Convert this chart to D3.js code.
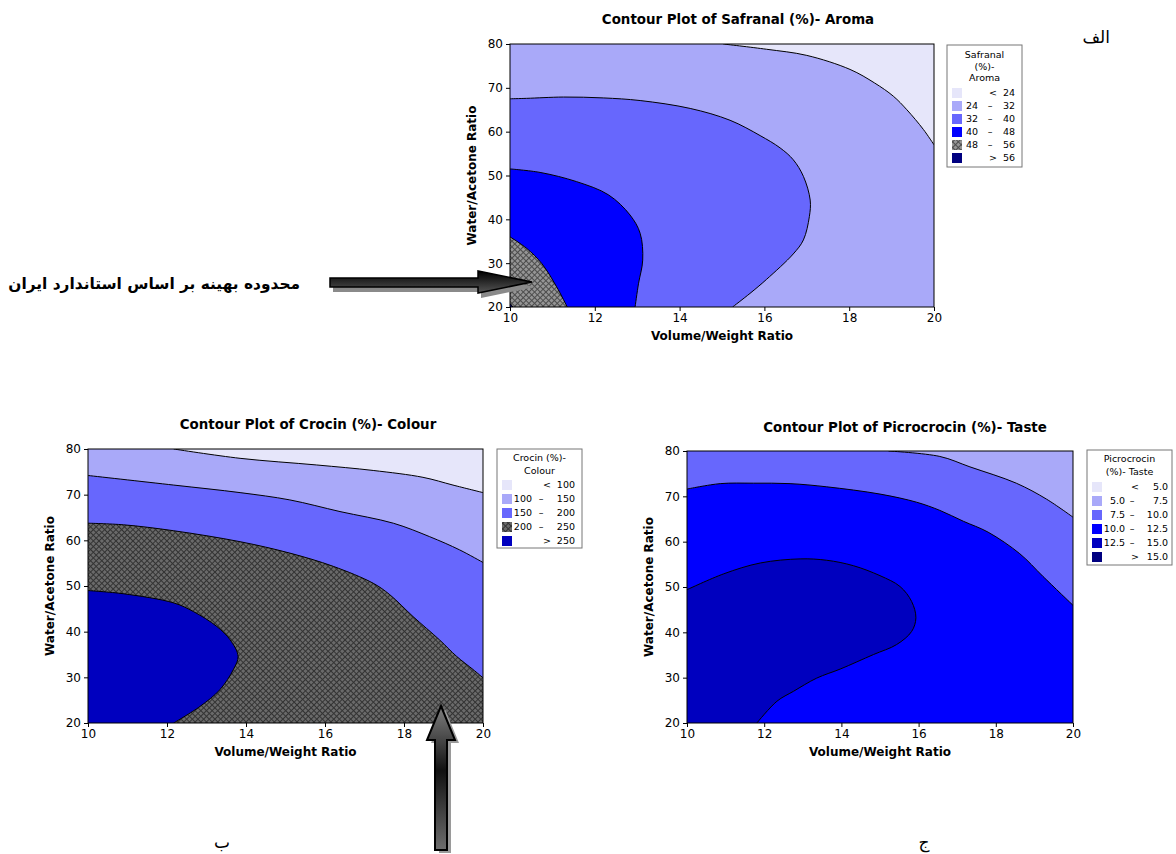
<!DOCTYPE html>
<html>
<head>
<meta charset="utf-8">
<script src="https://cdn.jsdelivr.net/npm/d3@7"></script>
<style>
  body { margin: 0; background: #fff; }
  text { font-family: "DejaVu Sans", Verdana, sans-serif; }
</style>
</head>
<body>
<svg id="fig"></svg>
<script>
// ---- data ----
const xTicks = [10, 12, 14, 16, 18, 20];
const yTicks = [20, 30, 40, 50, 60, 70, 80];

// Safranal (%) - Aroma
const safBreaks = [24, 32, 40, 48, 56];
const safColors = ["#e6e6fa", "#a9a9f9", "#6767fd", "#0000ff", "url(#hatchLight)", "#000080"];
const safB24 = [[15.03, 80], [16.05, 78.8], [17.0, 77.4], [18.02, 74.2], [18.6, 71.1], [19.04, 68.1], [19.36, 65.0], [19.75, 60.5], [20, 57.0]];
const safB32 = [[10, 67.5], [10.39, 67.6], [11.26, 67.9], [12.2, 67.7], [13.07, 67.1], [14.25, 65.3], [15.19, 62.6], [15.9, 59.1], [16.37, 56.3], [16.68, 53.6], [16.92, 49.8], [17.08, 44.4], [17.06, 40.6], [16.92, 35.3], [16.68, 32.1], [16.05, 26.3], [15.66, 23.1], [15.25, 20]];
const safB40 = [[10, 51.5], [10.71, 50.7], [11.57, 48.6], [12.32, 45.6], [12.83, 41.0], [13.07, 36.8], [13.13, 30.7], [13.03, 25.3], [12.95, 20]];
const safB48 = [[10, 36.0], [10.39, 33.4], [10.75, 29.9], [11.1, 24.6], [11.35, 20]];
const safB56 = [[10, 20.8], [10.07, 20]];

// Crocin (%) - Colour
const croBreaks = [100, 150, 200, 250];
const croColors = ["#e6e6fa", "#a9a9f9", "#6767fd", "url(#hatchDark)", "#0000bf"];
const croB100 = [[12.17, 80], [13.85, 77.96], [15.79, 76.5], [17.22, 75.3], [18.48, 73.8], [19.24, 72.1], [20, 70.45]];
const croB150 = [[10, 74.2], [12.17, 72.1], [13.85, 70.45], [15.11, 68.85], [16.38, 66.3], [17.73, 63.75], [18.65, 60.8], [19.41, 57.9], [20, 55.15]];
const croB200 = [[10, 63.75], [10.9, 63.4], [12.17, 62.1], [13.85, 59.7], [15.11, 57.2], [16.21, 54.3], [17.22, 50.6], [17.64, 48.1], [18.23, 43.3], [18.9, 38.2], [19.33, 34.6], [19.75, 31.7], [20, 29.9]];
const croB250 = [[10, 49.0], [10.9, 48.3], [12.17, 46.3], [12.67, 44.4], [13.26, 41.15], [13.6, 38.2], [13.8, 34.6], [13.68, 31.7], [13.34, 27.3], [12.84, 23.65], [12.17, 20]];

// Picrocrocin (%) - Taste
const picBreaks = [5.0, 7.5, 10.0, 12.5, 15.0];
const picColors = ["#e6e6fa", "#a9a9f9", "#6767fd", "#0000ff", "#0000bf", "#000080"];
const picB75 = [[15.22, 80], [16.55, 78.8], [17.33, 76.5], [18.53, 72.9], [19.31, 69.4], [20, 65.4]];
const picB10 = [[10, 71.6], [10.86, 72.8], [11.72, 72.9], [12.67, 72.8], [13.62, 72.1], [15.0, 70.5], [15.95, 68.7], [16.55, 66.9], [17.16, 64.5], [17.8, 62.1], [18.62, 57.35], [19.22, 52.35], [20, 45.96]];
const picB125 = [[10, 49.4], [10.95, 52.9], [11.9, 55.3], [12.93, 56.2], [13.62, 55.9], [14.31, 54.7], [15.0, 52.5], [15.52, 50.1], [15.82, 46.8], [15.93, 43.2], [15.82, 40.2], [15.43, 37.3], [14.83, 35.1], [13.97, 31.9], [13.36, 29.9], [12.76, 27.0], [12.33, 24.8], [11.81, 20]];

// ---- figure ----
const svg = d3.select("#fig").attr("width", 1176).attr("height", 854);
svg.append("rect").attr("width", 1176).attr("height", 854).attr("fill", "#fff");

const defs = svg.append("defs");
function hatch(id, bg, fg) {
    const p = defs.append("pattern")
        .attr("id", id)
        .attr("patternUnits", "userSpaceOnUse")
        .attr("width", 4).attr("height", 4)
        .attr("patternTransform", "rotate(45)");
    p.append("rect").attr("width", 4).attr("height", 4).attr("fill", bg);
    p.append("path").attr("d", "M0,0.5H4M0.5,0V4").attr("stroke", fg).attr("stroke-width", 1);
}
hatch("hatchLight", "#959595", "#4c4c4c");
hatch("hatchDark", "#6a6a6a", "#333");

function contourPlot(cfg) {
    const x = d3.scaleLinear().domain([10, 20]).range([cfg.left, cfg.left + cfg.width]);
    const y = d3.scaleLinear().domain([20, 80]).range([cfg.top + cfg.height, cfg.top]);
    const corner = {
        BR: [20, 20], BL: [10, 20], TL: [10, 80], TR: [20, 80]
    };
    const line = d3.line()
        .x(d => x(d[0])).y(d => y(d[1]))
        .curve(d3.curveCatmullRom.alpha(0.5));

    const clipId = "clip-" + cfg.id;
    defs.append("clipPath").attr("id", clipId)
        .append("rect")
        .attr("x", cfg.left).attr("y", cfg.top)
        .attr("width", cfg.width).attr("height", cfg.height);

    const g = svg.append("g").attr("clip-path", `url(#${clipId})`);
    g.append("rect")
        .attr("x", cfg.left).attr("y", cfg.top)
        .attr("width", cfg.width).attr("height", cfg.height)
        .attr("fill", cfg.background);

    cfg.bands.forEach(b => {
        let d = line(b.pts);
        b.close.forEach(c => { d += "L" + x(corner[c][0]) + "," + y(corner[c][1]); });
        g.append("path").attr("d", d + "Z").attr("fill", b.fill).attr("stroke", "none");
        g.append("path").attr("d", line(b.pts))
            .attr("fill", "none").attr("stroke", "#000").attr("stroke-width", 1);
    });

    // frame + axes
    svg.append("rect")
        .attr("x", cfg.left).attr("y", cfg.top)
        .attr("width", cfg.width).attr("height", cfg.height)
        .attr("fill", "none").attr("stroke", "#000").attr("stroke-width", 1);

    const xAxis = svg.append("g")
        .attr("transform", `translate(0,${cfg.top + cfg.height})`)
        .call(d3.axisBottom(x).tickValues(xTicks).tickSize(4).tickPadding(2).tickSizeOuter(0));
    const yAxis = svg.append("g")
        .attr("transform", `translate(${cfg.left},0)`)
        .call(d3.axisLeft(y).tickValues(yTicks).tickSize(4).tickPadding(3).tickSizeOuter(0));
    [xAxis, yAxis].forEach(a => {
        a.select(".domain").remove();
        a.selectAll("text").attr("font-size", 12).attr("fill", "#000")
            .style("font-family", "'DejaVu Sans', sans-serif");
    });

    svg.append("text")
        .attr("x", cfg.left + cfg.width / 2).attr("y", cfg.top + cfg.height + 33)
        .attr("text-anchor", "middle").attr("font-size", 12).attr("font-weight", "bold")
        .text("Volume/Weight Ratio");
    svg.append("text")
        .attr("transform", `translate(${cfg.left - 34},${cfg.top + cfg.height / 2}) rotate(-90)`)
        .attr("text-anchor", "middle").attr("font-size", 12).attr("font-weight", "bold")
        .text("Water/Acetone Ratio");
    svg.append("text")
        .attr("x", cfg.titleX).attr("y", cfg.titleY)
        .attr("text-anchor", "middle").attr("font-size", 13.4).attr("font-weight", "bold")
        .text(cfg.title);

    // legend
    const L = cfg.legend;
    const lg = svg.append("g").attr("transform", `translate(${L.x},${L.y})`);
    lg.append("rect").attr("width", L.w).attr("height", L.h)
        .attr("fill", "#fff").attr("stroke", "#777").attr("stroke-width", 1);
    L.title.forEach((t, i) => {
        lg.append("text").attr("x", L.w / 2 + (L.titleDx || 0)).attr("y", L.titleY + i * L.titleStep)
            .attr("text-anchor", "middle").attr("font-size", 9.5).text(t);
    });
    const fmt = cfg.fmt;
    const n = cfg.colors.length;
    cfg.colors.forEach((c, i) => {
        const ry = L.rowY + i * L.step;
        lg.append("rect").attr("x", 5).attr("y", ry - 8).attr("width", 10).attr("height", 10).attr("fill", c);
        const row = lg.append("g").attr("font-size", 9.5);
        if (i === 0 || i === n - 1) {
            row.append("text").attr("x", L.sign).attr("y", ry).attr("text-anchor", "middle")
                .text(i === 0 ? "<" : ">");
            row.append("text").attr("x", L.hi).attr("y", ry).attr("text-anchor", "end")
                .text(fmt(i === 0 ? cfg.breaks[0] : cfg.breaks[n - 2]));
        } else {
            row.append("text").attr("x", L.lo).attr("y", ry).attr("text-anchor", "end").text(fmt(cfg.breaks[i - 1]));
            row.append("text").attr("x", L.dash).attr("y", ry).attr("text-anchor", "middle").text("–");
            row.append("text").attr("x", L.hi).attr("y", ry).attr("text-anchor", "end").text(fmt(cfg.breaks[i]));
        }
    });
}

contourPlot({
    id: "saf", left: 510, top: 44, width: 424, height: 263,
    title: "Contour Plot of Safranal (%)- Aroma", titleX: 738, titleY: 24,
    background: safColors[0], colors: safColors, breaks: safBreaks, fmt: d3.format("d"),
    bands: [
        {pts: safB24, close: ["BR", "BL", "TL"], fill: safColors[1]},
        {pts: safB32, close: ["BL"], fill: safColors[2]},
        {pts: safB40, close: ["BL"], fill: safColors[3]},
        {pts: safB48, close: ["BL"], fill: safColors[4]},
        {pts: safB56, close: ["BL"], fill: safColors[5]}
    ],
    legend: {x: 947, y: 45, w: 75, h: 122, title: ["Safranal", "(%)-", "Aroma"], titleY: 13, titleStep: 11.5,
             rowY: 51, step: 13, lo: 31, dash: 43, sign: 46, hi: 68}
});

contourPlot({
    id: "cro", left: 88, top: 449, width: 395, height: 274,
    title: "Contour Plot of Crocin (%)- Colour", titleX: 308, titleY: 429,
    background: croColors[0], colors: croColors, breaks: croBreaks, fmt: d3.format("d"),
    bands: [
        {pts: croB100, close: ["BR", "BL", "TL"], fill: croColors[1]},
        {pts: croB150, close: ["BR", "BL"], fill: croColors[2]},
        {pts: croB200, close: ["BR", "BL"], fill: croColors[3]},
        {pts: croB250, close: ["BL"], fill: croColors[4]}
    ],
    legend: {x: 497, y: 449, w: 85, h: 99, title: ["Crocin (%)-", "Colour"], titleY: 12, titleStep: 12.5,
             rowY: 39, step: 14, lo: 35, dash: 44, sign: 50, hi: 78}
});

contourPlot({
    id: "pic", left: 687, top: 451, width: 386, height: 272,
    title: "Contour Plot of Picrocrocin (%)-  Taste", titleX: 905, titleY: 432,
    background: picColors[1], colors: picColors, breaks: picBreaks, fmt: d3.format(".1f"),
    bands: [
        {pts: picB75, close: ["BR", "BL", "TL"], fill: picColors[2]},
        {pts: picB10, close: ["BR", "BL"], fill: picColors[3]},
        {pts: picB125, close: ["BL"], fill: picColors[4]}
    ],
    legend: {x: 1087, y: 450, w: 85, h: 115, title: ["Picrocrocin", "(%)-  Taste"], titleY: 12, titleStep: 13,
             rowY: 40, step: 14, lo: 38, dash: 45, sign: 48, hi: 81}
});

// ---- annotations ----
const gradH = defs.append("linearGradient").attr("id", "gradH").attr("x1", 0).attr("y1", 0).attr("x2", 0).attr("y2", 1);
gradH.append("stop").attr("offset", 0).attr("stop-color", "#000");
gradH.append("stop").attr("offset", 1).attr("stop-color", "#555");
const gradV = defs.append("linearGradient").attr("id", "gradV").attr("x1", 0).attr("y1", 0).attr("x2", 0).attr("y2", 1);
gradV.append("stop").attr("offset", 0).attr("stop-color", "#808080");
gradV.append("stop").attr("offset", 0.45).attr("stop-color", "#111");
gradV.append("stop").attr("offset", 1).attr("stop-color", "#6e6e6e");

const hArrow = [[330, 278], [478, 278], [478, 271], [532, 282], [478, 293], [478, 287], [330, 287]];
const vArrow = [[441, 706], [455, 740], [447, 740], [447, 850], [435, 850], [435, 740], [427, 740]];
const poly = pts => "M" + pts.map(p => p.join(",")).join("L") + "Z";

svg.append("path").attr("d", poly(hArrow)).attr("transform", "translate(3,5)").attr("fill", "#8a8a8a");
svg.append("path").attr("d", poly(hArrow)).attr("fill", "url(#gradH)").attr("stroke", "#000").attr("stroke-width", 1.5);
svg.append("path").attr("d", poly(vArrow)).attr("transform", "translate(4,3)").attr("fill", "#9a9a9a");
svg.append("path").attr("d", poly(vArrow)).attr("fill", "url(#gradV)").attr("stroke", "#000").attr("stroke-width", 2);

svg.append("text").attr("x", 300).attr("y", 289).attr("text-anchor", "end")
    .attr("font-size", 15.4).attr("font-weight", "bold")
    .text("محدوده بهینه بر اساس استاندارد ایران");
svg.append("text").attr("x", 1110).attr("y", 43).attr("text-anchor", "end").attr("font-size", 17)
    .text("الف");
svg.append("text").attr("x", 222).attr("y", 848).attr("text-anchor", "middle").attr("font-size", 17)
    .text("ب");
svg.append("text").attr("x", 924).attr("y", 848).attr("text-anchor", "middle").attr("font-size", 17)
    .text("ج");
</script>
</body>
</html>
